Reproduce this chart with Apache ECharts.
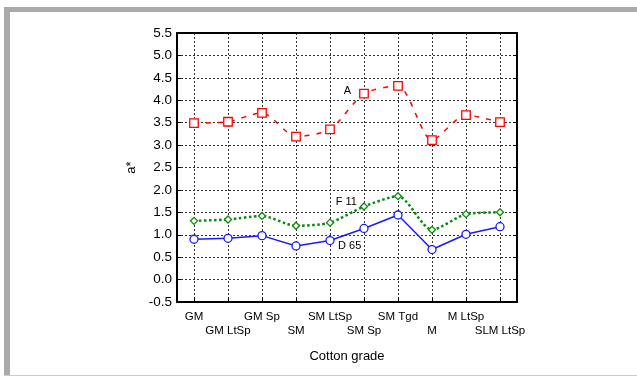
<!DOCTYPE html>
<html>
<head>
<meta charset="utf-8">
<script src="https://cdn.jsdelivr.net/npm/echarts@6/dist/echarts.min.js"></script>
<style>
  html, body { margin: 0; padding: 0; background: #fff; }
  #frame { position: absolute; left: 0; top: 0; width: 637px; height: 377px; }
  #bandTop { position: absolute; left: 4px; top: 7px; width: 633px; height: 5px; background: #aaaaaa; }
  #bandLeft { position: absolute; left: 4px; top: 7px; width: 6px; height: 369px; background: #aaaaaa; }
  #bandBottom { position: absolute; left: 4px; top: 375px; width: 633px; height: 1px; background: #cccccc; }
  #chart { position: absolute; left: 0; top: 0; width: 637px; height: 377px; }
</style>
</head>
<body>
<div id="frame">
  <div id="bandTop"></div>
  <div id="bandLeft"></div>
  <div id="bandBottom"></div>
  <div id="chart"></div>
</div>
<script>
// Cotton grades along the x axis
const grades = ['GM', 'GM LtSp', 'GM Sp', 'SM', 'SM LtSp', 'SM Sp', 'SM Tgd', 'M', 'M LtSp', 'SLM LtSp'];

// a* values under each illuminant
const illumA   = [3.49, 3.52, 3.72, 3.19, 3.35, 4.15, 4.32, 3.11, 3.67, 3.51];
const illumF11 = [1.31, 1.34, 1.42, 1.20, 1.27, 1.63, 1.86, 1.11, 1.46, 1.50];
const illumD65 = [0.90, 0.92, 0.98, 0.75, 0.87, 1.14, 1.44, 0.67, 1.01, 1.18];

// Series names shown next to the SM Sp point
const seriesNames = ['A', 'F 11', 'D 65'];
const labelIndex = 5;

// y ticks
const yMin = -0.5, yMax = 5.5, yStep = 0.5;

const font = 'Liberation Sans, Arial, sans-serif';

function withLabel(values, text, labelOpt) {
  return values.map((v, i) => i === labelIndex
    ? { value: v, label: Object.assign({ show: true, formatter: text, color: '#000', fontSize: 11, fontFamily: font }, labelOpt) }
    : v);
}

const chart = echarts.init(document.getElementById('chart'), null, { renderer: 'canvas' });

chart.setOption({
  animation: false,
  backgroundColor: 'transparent',
  grid: { left: 177, right: 120, top: 33, bottom: 75, containLabel: false },
  xAxis: [{
    type: 'category',
    data: grades,
    boundaryGap: true,
    name: 'Cotton grade',
    nameLocation: 'middle',
    nameGap: 48,
    nameTextStyle: { color: '#000', fontSize: 13, fontFamily: font },
    axisLine: { show: true, onZero: false, lineStyle: { color: '#000', width: 2 } },
    axisTick: { show: true, inside: true, alignWithLabel: true, length: 4, lineStyle: { color: '#000', width: 1 } },
    axisLabel: {
      interval: 0, color: '#000', fontSize: 11.5, fontFamily: font, margin: 8, lineHeight: 14,
      formatter: (v, i) => (i % 2 ? '\n' + v : v)
    },
    splitLine: { show: true, alignWithLabel: true, lineStyle: { color: '#333', type: [2, 2], width: 1 } }
  }, {
    type: 'category',
    data: grades,
    position: 'top',
    boundaryGap: true,
    axisLine: { show: true, onZero: false, lineStyle: { color: '#000', width: 2 } },
    axisTick: { show: false },
    axisLabel: { show: false },
    splitLine: { show: false }
  }],
  yAxis: [{
    type: 'value',
    min: yMin, max: yMax, interval: yStep,
    name: 'a*',
    nameLocation: 'middle',
    nameGap: 15,
    nameTextStyle: { color: '#000', fontSize: 13, fontFamily: font },
    axisLine: { show: true, onZero: false, lineStyle: { color: '#000', width: 2 } },
    axisTick: { show: true, inside: true, length: 4, lineStyle: { color: '#000' } },
    axisLabel: { color: '#000', fontSize: 13.5, fontFamily: font, margin: 5, formatter: v => v.toFixed(1) },
    splitLine: { show: true, lineStyle: { color: '#333', type: [2, 2], width: 1 } }
  }, {
    type: 'value',
    position: 'right',
    min: yMin, max: yMax, interval: yStep,
    axisLine: { show: true, onZero: false, lineStyle: { color: '#000', width: 2 } },
    axisTick: { show: true, inside: true, length: 4, lineStyle: { color: '#000' } },
    axisLabel: { show: false },
    splitLine: { show: false }
  }],
  series: [{
    name: seriesNames[0],
    type: 'line',
    data: withLabel(illumA, seriesNames[0], { position: 'left', distance: 8, offset: [0, -3] }),
    smooth: 0.25,
    symbol: 'rect',
    symbolSize: 8.5,
    showAllSymbol: true,
    lineStyle: { color: '#ff0000', width: 1.5, type: [5, 7] },
    itemStyle: { color: '#fff', borderColor: '#ff0000', borderWidth: 1.3 },
    z: 3
  }, {
    name: seriesNames[1],
    type: 'line',
    data: withLabel(illumF11, seriesNames[1], { position: 'left', distance: 3, offset: [0, -5] }),
    smooth: 0.25,
    symbol: 'diamond',
    symbolSize: 7,
    showAllSymbol: true,
    lineStyle: { color: '#0a8a0a', width: 2.5, type: [2.5, 2.5] },
    itemStyle: { color: '#fff', borderColor: '#0a8a0a', borderWidth: 1.3 },
    z: 3
  }, {
    name: seriesNames[2],
    type: 'line',
    data: withLabel(illumD65, seriesNames[2], { position: 'left', distance: 0, offset: [2, 17] }),
    symbol: 'circle',
    symbolSize: 8,
    showAllSymbol: true,
    lineStyle: { color: '#1a1aff', width: 1.5 },
    itemStyle: { color: '#fff', borderColor: '#1a1aff', borderWidth: 1.3 },
    z: 3
  }]
});
</script>
</body>
</html>
